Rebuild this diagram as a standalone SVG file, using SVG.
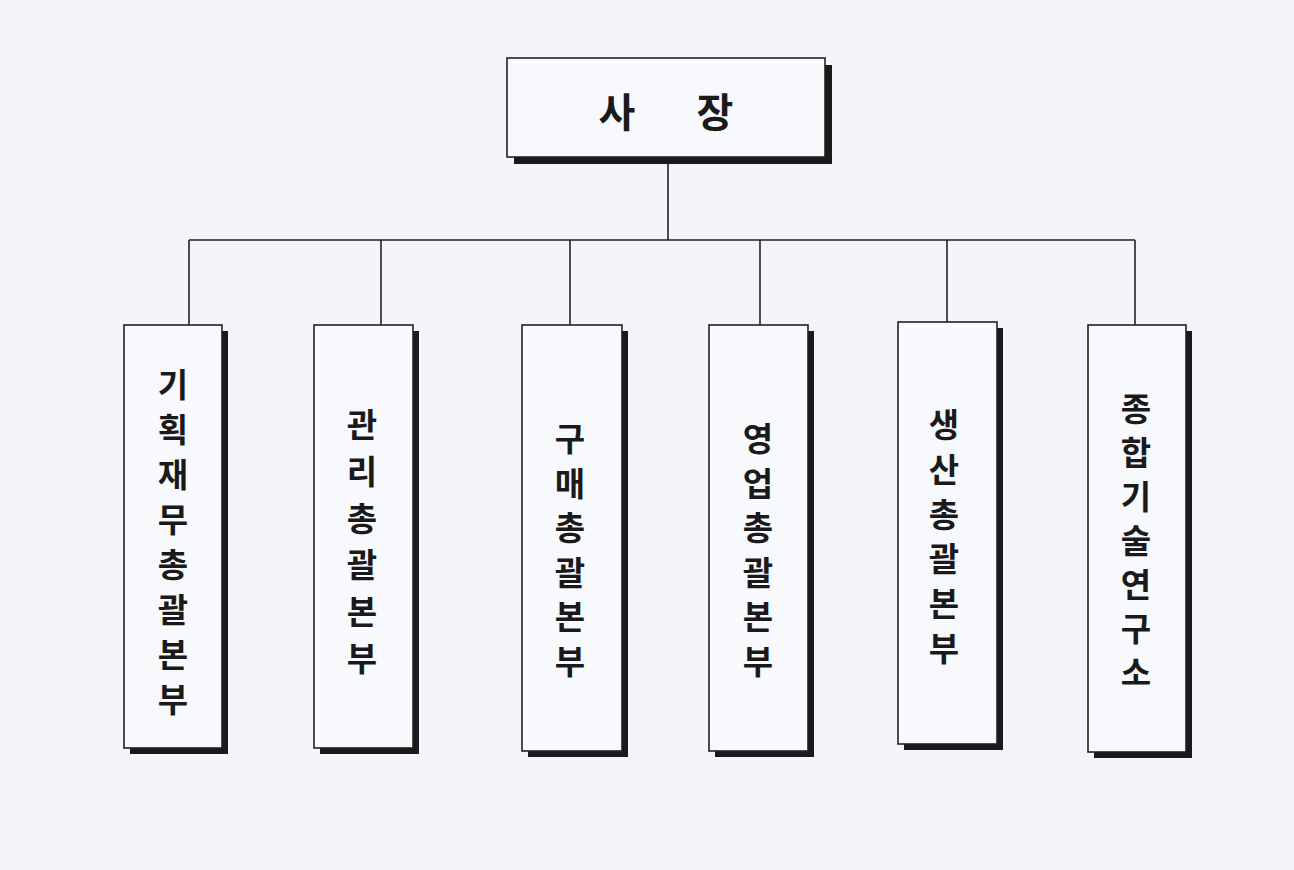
<svg xmlns="http://www.w3.org/2000/svg" width="1294" height="870" viewBox="0 0 1294 870">
<style>
.bg{fill:#f3f5fb}
.box{fill:#f8f9fd;stroke:#222;stroke-width:1.6}
.sh{fill:#1a1a1a}
.ln{stroke:#222;stroke-width:1.6;fill:none}
.t{font-family:"Noto Sans CJK KR","Noto Sans",sans-serif;font-weight:700;font-size:33px;fill:#1a1a1a;text-anchor:middle;dominant-baseline:central}
.tt{font-size:40px}
</style>
<rect class="bg" x="0" y="0" width="1294" height="870"/>
<g id="connectors">
<line class="ln" x1="668" y1="157" x2="668" y2="240"/>
<line class="ln" x1="189" y1="240" x2="1135" y2="240"/>
<line class="ln" x1="189" y1="240" x2="189" y2="325"/>
<line class="ln" x1="381" y1="240" x2="381" y2="325"/>
<line class="ln" x1="570" y1="240" x2="570" y2="325"/>
<line class="ln" x1="760" y1="240" x2="760" y2="325"/>
<line class="ln" x1="947" y1="240" x2="947" y2="322"/>
<line class="ln" x1="1135" y1="240" x2="1135" y2="325"/>
</g>
<g id="n0">
<rect class="sh" x="514" y="65" width="318" height="99"/>
<rect class="box" x="507" y="58" width="318" height="99"/>
<text class="t tt" y="110"><tspan x="617">사</tspan><tspan x="715">장</tspan></text>
</g>
<g id="n1">
<rect class="sh" x="130" y="331" width="98" height="423"/>
<rect class="box" x="124" y="325" width="98" height="423"/>
<text class="t"><tspan x="173" y="383">기</tspan><tspan x="173" y="428">획</tspan><tspan x="173" y="473">재</tspan><tspan x="173" y="518">무</tspan><tspan x="173" y="563">총</tspan><tspan x="173" y="608">괄</tspan><tspan x="173" y="653">본</tspan><tspan x="173" y="698">부</tspan></text>
</g>
<g id="n2">
<rect class="sh" x="320" y="331" width="99" height="423"/>
<rect class="box" x="314" y="325" width="99" height="423"/>
<text class="t"><tspan x="362" y="423">관</tspan><tspan x="362" y="470">리</tspan><tspan x="362" y="517">총</tspan><tspan x="362" y="563">괄</tspan><tspan x="362" y="610">본</tspan><tspan x="362" y="657">부</tspan></text>
</g>
<g id="n3">
<rect class="sh" x="528" y="331" width="100" height="426"/>
<rect class="box" x="522" y="325" width="100" height="426"/>
<text class="t"><tspan x="570" y="437">구</tspan><tspan x="570" y="482">매</tspan><tspan x="570" y="526">총</tspan><tspan x="570" y="571">괄</tspan><tspan x="570" y="615">본</tspan><tspan x="570" y="660">부</tspan></text>
</g>
<g id="n4">
<rect class="sh" x="715" y="331" width="99" height="426"/>
<rect class="box" x="709" y="325" width="99" height="426"/>
<text class="t"><tspan x="758" y="437">영</tspan><tspan x="758" y="482">업</tspan><tspan x="758" y="526">총</tspan><tspan x="758" y="571">괄</tspan><tspan x="758" y="615">본</tspan><tspan x="758" y="660">부</tspan></text>
</g>
<g id="n5">
<rect class="sh" x="904" y="328" width="99" height="422"/>
<rect class="box" x="898" y="322" width="99" height="422"/>
<text class="t"><tspan x="944" y="423">생</tspan><tspan x="944" y="468">산</tspan><tspan x="944" y="513">총</tspan><tspan x="944" y="557">괄</tspan><tspan x="944" y="602">본</tspan><tspan x="944" y="647">부</tspan></text>
</g>
<g id="n6">
<rect class="sh" x="1094" y="331" width="98" height="427"/>
<rect class="box" x="1088" y="325" width="98" height="427"/>
<text class="t"><tspan x="1136" y="407">종</tspan><tspan x="1136" y="451">합</tspan><tspan x="1136" y="495">기</tspan><tspan x="1136" y="539">술</tspan><tspan x="1136" y="583">연</tspan><tspan x="1136" y="627">구</tspan><tspan x="1136" y="671">소</tspan></text>
</g>
</svg>
